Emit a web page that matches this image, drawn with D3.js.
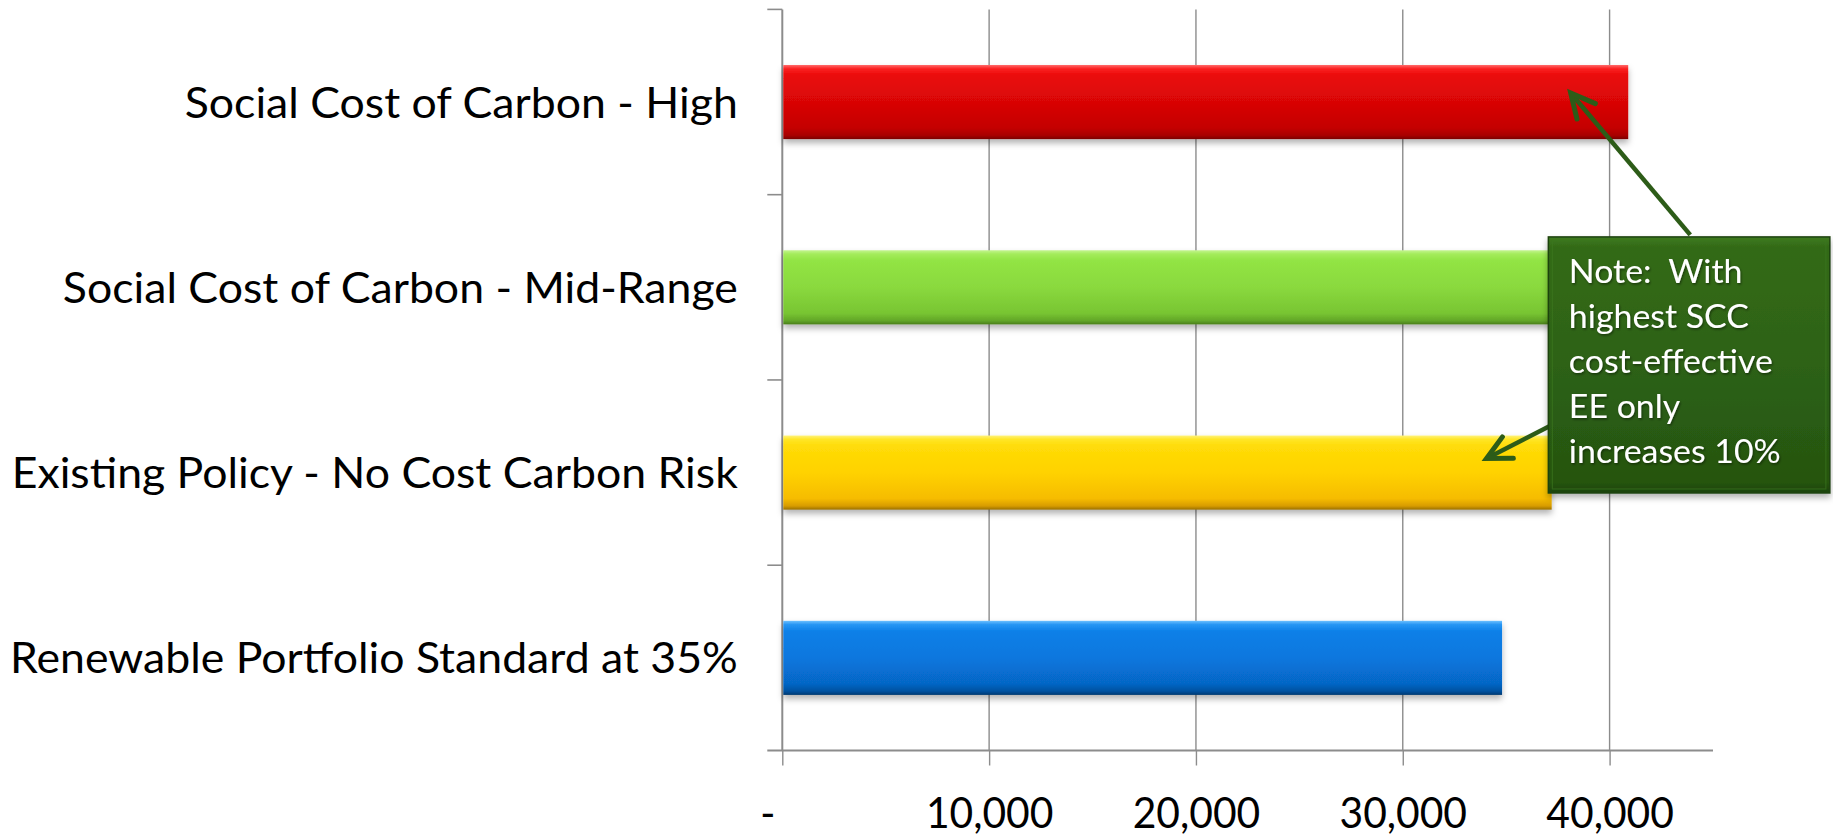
<!DOCTYPE html>
<html>
<head>
<meta charset="utf-8">
<script src="https://cdn.jsdelivr.net/npm/d3@7"></script>
<style>
  html, body { margin: 0; padding: 0; background: #fff; }
  svg { display: block; }
  .note { white-space: pre; }
</style>
</head>
<body>
<svg id="chart" width="1833" height="838"></svg>
<script>
// ---- data ----
const categories = [
  "Social Cost of Carbon - High",
  "Social Cost of Carbon - Mid-Range",
  "Existing Policy - No Cost Carbon Risk",
  "Renewable Portfolio Standard at 35%"
];
const values = [40900, 38600, 37200, 34800];
const barColors = ["red", "green", "yellow", "blue"];
const tickValues = [0, 10000, 20000, 30000, 40000];
const tickLabels = ["-", "10,000", "20,000", "30,000", "40,000"];
const axisMax = 45000;
const noteLines = ["Note:  With", "highest SCC", "cost-effective", "EE only", "increases 10%"];

(function () {
// ---- layout ----
const svg = d3.select("#chart");
const FONT = "Lato, 'Open Sans', sans-serif";
const pLeft = 782.3, pRight = 1713, pTop = 9.4, pBottom = 750.5;

const x = d3.scaleLinear().domain([0, axisMax]).range([pLeft, pRight]);
const y = d3.scaleBand().domain(categories).range([pTop, pBottom])
  .paddingInner(0.6).paddingOuter(0.3);
const bandTop = i => pTop + i * y.step();

const defs = svg.append("defs");
const grads = {
  red:    [["0", "#ff6a6a"], ["0.05", "#fb2222"], ["0.14", "#ea0a0a"], ["0.5", "#d90606"], ["0.85", "#c40404"], ["0.95", "#a80202"], ["1", "#7a0000"]],
  green:  [["0", "#c4f590"], ["0.05", "#a4ec5c"], ["0.14", "#92e444"], ["0.5", "#8ad93e"], ["0.85", "#78c532"], ["0.95", "#62a628"], ["1", "#4a7e1c"]],
  yellow: [["0", "#fff27a"], ["0.05", "#ffe628"], ["0.14", "#ffdc08"], ["0.5", "#ffd200"], ["0.85", "#f6bc00"], ["0.95", "#d89c00"], ["1", "#9a7000"]],
  blue:   [["0", "#6cc0ff"], ["0.05", "#2896f4"], ["0.14", "#0c80e8"], ["0.5", "#0877de"], ["0.85", "#0666c6"], ["0.95", "#0552a0"], ["1", "#033a70"]]
};
Object.entries(grads).forEach(([k, stops]) => {
  const g = defs.append("linearGradient").attr("id", "g-" + k)
    .attr("x1", 0).attr("y1", 0).attr("x2", 0).attr("y2", 1);
  stops.forEach(([o, c]) => g.append("stop").attr("offset", o).attr("stop-color", c));
});
const sh = defs.append("filter").attr("id", "shadow")
  .attr("x", "-5%").attr("y", "-20%").attr("width", "110%").attr("height", "150%");
sh.append("feDropShadow").attr("dx", 0).attr("dy", 4).attr("stdDeviation", 3)
  .attr("flood-color", "#000").attr("flood-opacity", 0.3);
const tsh = defs.append("filter").attr("id", "tshadow")
  .attr("x", "-5%").attr("y", "-20%").attr("width", "110%").attr("height", "150%");
tsh.append("feDropShadow").attr("dx", 1).attr("dy", 1.5).attr("stdDeviation", 1)
  .attr("flood-color", "#000").attr("flood-opacity", 0.45);

const ng = defs.append("linearGradient").attr("id", "g-note")
  .attr("x1", 0).attr("y1", 0).attr("x2", 0).attr("y2", 1);
[["0", "#3f7a20"], ["0.04", "#336a17"], ["0.5", "#2d6214"], ["0.96", "#255410"], ["1", "#1c420b"]]
  .forEach(([o, c]) => ng.append("stop").attr("offset", o).attr("stop-color", c));

// ---- gridlines & axes ----
const gridColor = "#8c8c8c";
const xAxis = d3.axisBottom(x).tickValues(tickValues)
  .tickSize(15).tickFormat((d, i) => tickLabels[i]);
const xg = svg.append("g").attr("transform", `translate(0,${pBottom})`).call(xAxis);
xg.select(".domain").remove();
xg.selectAll(".tick line").attr("stroke", gridColor).attr("stroke-width", 1.4);
xg.selectAll(".tick text")
  .attr("fill", "#000").attr("font-family", FONT).attr("font-size", 42)
  .attr("y", 77.5).attr("dy", null);

svg.append("g").selectAll("line").data(tickValues.filter(d => d > 0)).join("line")
  .attr("x1", d => x(d)).attr("x2", d => x(d))
  .attr("y1", pTop).attr("y2", pBottom)
  .attr("stroke", gridColor).attr("stroke-width", 1.4);

svg.append("line").attr("x1", pLeft - 15).attr("x2", pRight)
  .attr("y1", pBottom).attr("y2", pBottom)
  .attr("stroke", gridColor).attr("stroke-width", 2);
svg.append("line").attr("x1", pLeft).attr("x2", pLeft)
  .attr("y1", pTop).attr("y2", pBottom)
  .attr("stroke", gridColor).attr("stroke-width", 2);
svg.append("g").selectAll("line").data(d3.range(categories.length)).join("line")
  .attr("x1", pLeft - 15).attr("x2", pLeft)
  .attr("y1", i => bandTop(i)).attr("y2", i => bandTop(i))
  .attr("stroke", gridColor).attr("stroke-width", 1.6);

// ---- bars ----
svg.append("g").selectAll("rect").data(categories).join("rect")
  .attr("x", x(0) + 1)
  .attr("y", d => y(d))
  .attr("width", (d, i) => x(values[i]) - x(0) - 1)
  .attr("height", y.bandwidth())
  .attr("fill", (d, i) => `url(#g-${barColors[i]})`)
  .attr("filter", "url(#shadow)");

// ---- category labels ----
const labels = svg.append("g").selectAll("text").data(categories).join("text")
  .attr("font-family", FONT).attr("font-size", 42).attr("fill", "#000")
  .attr("text-anchor", "end")
  .text(d => d);
const longest = labels.nodes().reduce((m, n) => Math.max(m, n.getComputedTextLength()), 0);
const kLab = 728 / longest;
labels.attr("transform", d => `translate(${pLeft - 44.5},${y(d) + y.bandwidth() / 2 + 15.5}) scale(${kLab},1)`);

const tickTexts = xg.selectAll(".tick text");
const wTen = tickTexts.filter((d, i) => i === 1).node().getComputedTextLength();
const kTick = 127.5 / wTen;
tickTexts.attr("transform", `scale(${kTick},1)`)
  .attr("x", (d, i) => i === 0 ? -15 / kTick : 0);

// ---- annotation ----
const boxX0 = x(37040), boxX1 = x(50650);
const boxY0 = bandTop(1) + 0.228 * y.step(), boxY1 = bandTop(2) + 0.61 * y.step();
const arrowColor = "#2d5c18";

defs.append("marker").attr("id", "arrow")
  .attr("markerUnits", "userSpaceOnUse").attr("viewBox", "-34 -18 40 36")
  .attr("refX", 0).attr("refY", 0).attr("markerWidth", 40).attr("markerHeight", 36)
  .attr("orient", "auto")
  .append("path").attr("d", "M-24,-12 L0,0 L-24,12")
  .attr("fill", "none").attr("stroke", arrowColor).attr("stroke-width", 5)
  .attr("stroke-linecap", "round").attr("stroke-linejoin", "miter");

const ann = svg.append("g");
ann.append("line")
  .attr("x1", x(43900)).attr("y1", boxY0 - 2)
  .attr("x2", x(38120)).attr("y2", y(categories[0]) + 28)
  .attr("stroke", arrowColor).attr("stroke-width", 4.5)
  .attr("marker-end", "url(#arrow)");
ann.append("line")
  .attr("x1", boxX0 + 1).attr("y1", bandTop(2) + 0.25 * y.step())
  .attr("x2", x(34050)).attr("y2", y(categories[2]) + 23)
  .attr("stroke", arrowColor).attr("stroke-width", 4.5)
  .attr("marker-end", "url(#arrow)");

ann.append("rect")
  .attr("x", boxX0).attr("y", boxY0)
  .attr("width", boxX1 - boxX0).attr("height", boxY1 - boxY0)
  .attr("fill", "url(#g-note)").attr("stroke", "#1d430c").attr("stroke-width", 1.5)
  .attr("filter", "url(#shadow)");
ann.append("rect")
  .attr("x", boxX0 + 4).attr("y", boxY0 + 4)
  .attr("width", boxX1 - boxX0 - 8).attr("height", boxY1 - boxY0 - 8)
  .attr("fill", "none").attr("stroke", "#3c7820").attr("stroke-width", 1.2).attr("opacity", 0.6);

const noteText = ann.append("g").selectAll("text").data(noteLines).join("text")
  .attr("class", "note")
  .attr("font-family", FONT).attr("font-size", 33.5).attr("fill", "#fff")
  .attr("filter", "url(#tshadow)")
  .text(d => d);
const wCost = noteText.filter((d, i) => i === 2).node().getComputedTextLength();
const kNote = 204 / wCost;
noteText.attr("transform", (d, i) => `translate(${boxX0 + 20.5},${boxY0 + 45.7 + i * 45}) scale(${kNote},1)`);
})();
</script>
</body>
</html>
